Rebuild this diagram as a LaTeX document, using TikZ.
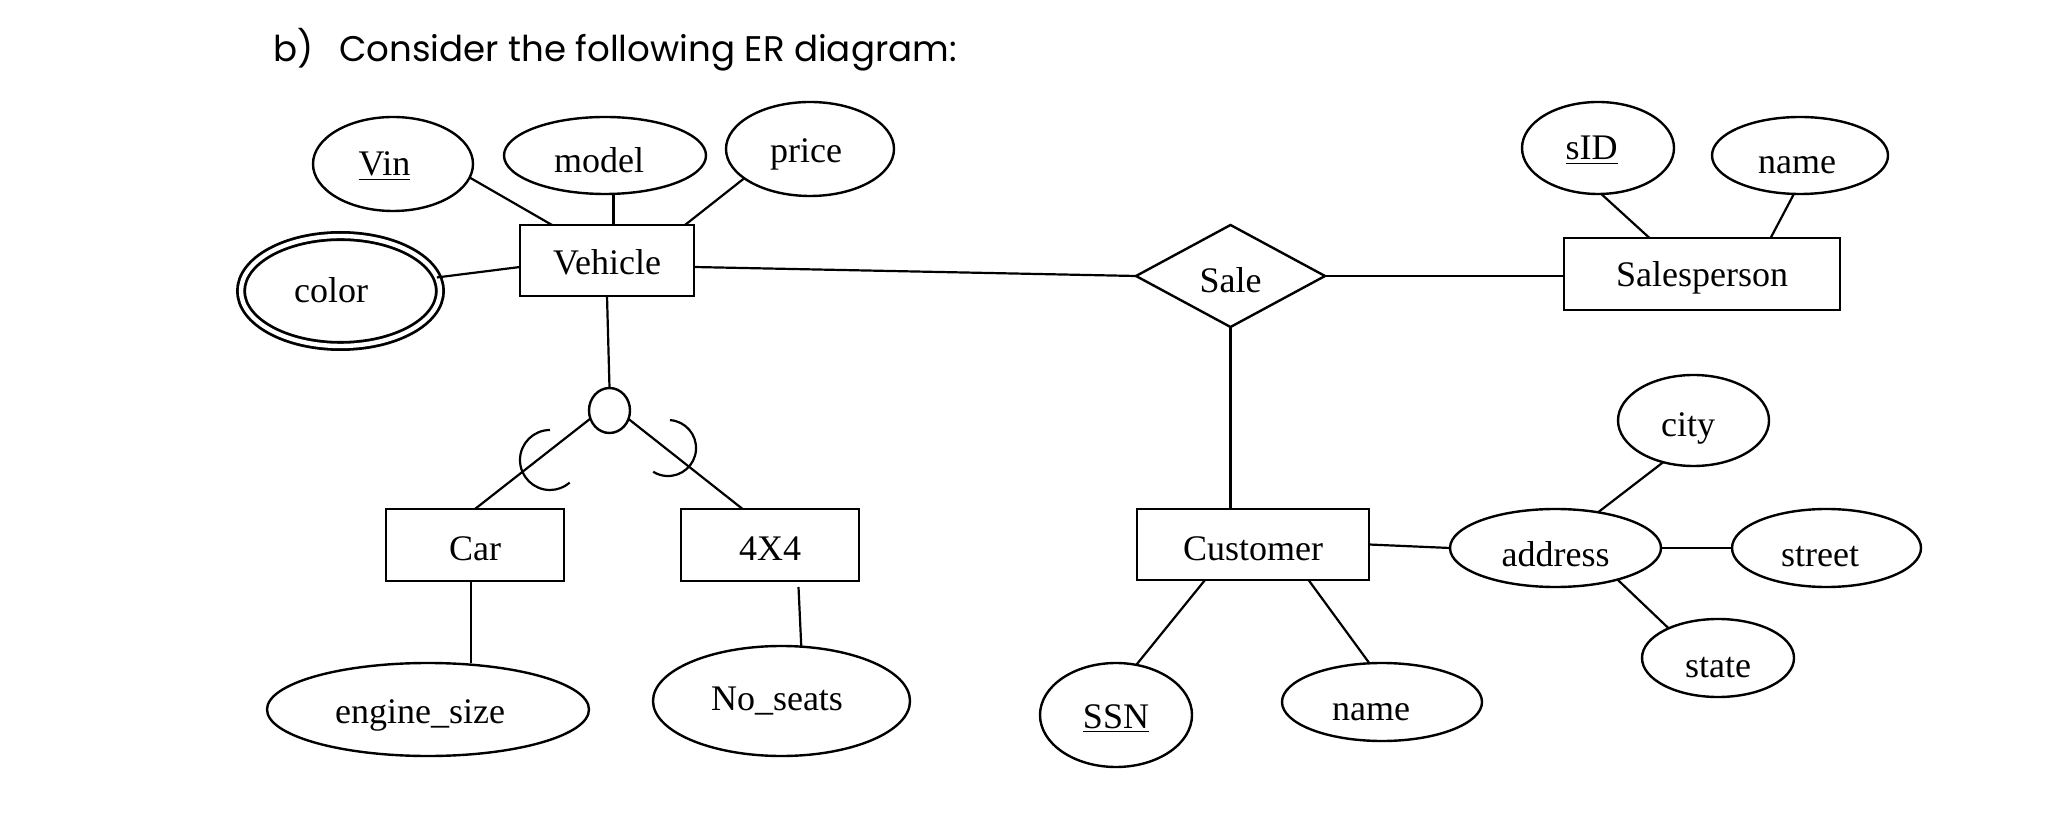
\documentclass[tikz,border=0pt]{standalone}
\usepackage{fontspec}
\setmainfont{Liberation Serif}
\newfontfamily\titlefont{Poppins}
\usetikzlibrary{shapes.geometric,calc}
\begin{document}
\begin{tikzpicture}[x=0.5pt,y=-0.5pt,
  every node/.style={inner sep=0pt, outer sep=0pt},
  lbl/.style={font=\fontsize{18pt}{21pt}\selectfont, text height=20pt, text depth=4pt},
  entity/.style={draw, rectangle, line width=1.2pt, lbl},
  attr/.style={draw, ellipse, line width=1.2pt, lbl},
  multiattr/.style={draw, ellipse, line width=1.4pt, double, double distance=2.2pt, lbl},
  rel/.style={draw, diamond, aspect=1.85, line width=1.2pt, lbl},
  joint/.style={draw, ellipse, line width=1.2pt},
  conn/.style={line width=1.1pt},
  titletext/.style={font=\titlefont\fontsize{17.8pt}{21pt}\selectfont, anchor=base west},
]
\useasboundingbox (0,0) rectangle (2064,838);

% title
\node[titletext] (tb) at (273,62) {b)};
\node[titletext] (tt) at (339,62) {Consider the following ER diagram:};

% entities
\node[entity, text depth=5.5pt, minimum width=87pt, minimum height=35.5pt] (vehicle) at (607,260.5) {Vehicle};
\node[entity, text depth=5pt, minimum width=89pt, minimum height=36pt] (car) at (475,545) {Car};
\node[entity, text depth=5pt, minimum width=89pt, minimum height=36pt] (fxf) at (770,545) {4X4};
\node[entity, text depth=4.5pt, minimum width=116pt, minimum height=35.5pt] (customer) at (1253,544.5) {Customer};
\node[entity, text depth=7pt, minimum width=138pt, minimum height=36pt] (salesperson) at (1702,274) {Salesperson};
\node[rel, text depth=3pt, minimum width=94.5pt, minimum height=51pt] (sale) at (1230.5,276) {Sale};

% attributes
\node[attr, text depth=8pt, minimum width=80pt, minimum height=47pt] (vin) at (393,164) {\underline{Vin}\hspace*{8.5pt}};
\node[attr, text depth=2.5pt, minimum width=101pt, minimum height=38.5pt] (model) at (605,155.5) {model\hspace*{6pt}};
\node[attr, text depth=6pt, minimum width=84pt, minimum height=47pt] (price) at (810,149) {price\hspace*{4pt}};
\node[multiattr, text depth=8pt, minimum width=99.5pt, minimum height=55pt] (color) at (340.5,291) {color\hspace*{9.5pt}};
\node[attr, text depth=8pt, minimum width=76pt, minimum height=46pt] (sid) at (1598,148) {\underline{sID}\hspace*{6.5pt}};
\node[attr, text depth=2pt, minimum width=88pt, minimum height=38.5pt] (spname) at (1800,155.5) {name\hspace*{3pt}};
\node[attr, text depth=3.5pt, minimum width=75.5pt, minimum height=45.5pt] (city) at (1693.5,420.5) {city\hspace*{5.5pt}};
\node[attr, text depth=1pt, minimum width=105.5pt, minimum height=39pt] (address) at (1555.5,548) {address};
\node[attr, text depth=1pt, minimum width=94.5pt, minimum height=39pt] (street) at (1826.5,548) {street\hspace*{6.5pt}};
\node[attr, text depth=1pt, minimum width=76pt, minimum height=39pt] (state) at (1718,658) {state};
\node[attr, text depth=7pt, minimum width=76pt, minimum height=52pt] (ssn) at (1116,715) {\underline{SSN}};
\node[attr, text depth=2pt, minimum width=100pt, minimum height=39pt] (cname) at (1382,702) {name\hspace*{11pt}};
\node[attr, text depth=6.5pt, minimum width=161pt, minimum height=46.5pt] (engine) at (428,709.5) {engine\_size\hspace*{8pt}};
\node[attr, text depth=11pt, minimum width=128.5pt, minimum height=55pt] (noseats) at (781.5,701) {No\_seats\hspace*{4.5pt}};

% specialisation circle
\node[joint, minimum width=20.5pt, minimum height=22.5pt] (disc) at (609.5,410.5) {};

% connectors
\draw[conn] (vin.-10) -- ($(vehicle.north west)!0.184!(vehicle.north east)$);
\draw[conn] ([xshift=4.25pt]model.south) -- ([xshift=3.25pt]vehicle.north);
\draw[conn] (price.204) -- ([xshift=-4.5pt]vehicle.north east);
\draw[conn] (color.8) -- ([yshift=-3.25pt]vehicle.west);
\draw[conn] ([yshift=-3.25pt]vehicle.east) -- (sale.west);
\draw[conn] (sale.east) -- (sale.east -| salesperson.west);
\draw[conn] (sid.-86) -- ([xshift=-26.25pt]salesperson.north);
\draw[conn] (spname.-99) -- ([xshift=34.3pt]salesperson.north);
\draw[conn] (sale.south) -- (sale.south |- customer.north);
\draw[conn] (customer.east) -- (address.west);
\draw[conn] (city.234) -- (address.40);
\draw[conn] (address.east) -- (street.west);
\draw[conn] (address.-27) -- (state.149);
\draw[conn] ([xshift=-24pt]customer.south) -- (ssn.68);
\draw[conn] ([xshift=27.75pt]customer.south) -- (cname.108);
\draw[conn] (vehicle.south) -- (disc.north);
\draw[conn] (disc.203) -- (car.north);
\draw[conn] (disc.-24) -- ([xshift=-13.7pt]fxf.north);
\draw[conn] ([xshift=-2.15pt]car.south) coordinate (c1) -- (c1 |- engine.north);
\draw[conn] ([xshift=14.25pt,yshift=-3pt]fxf.south) -- (noseats.70);

% subset marks
\draw[conn] (550,430) arc[start angle=90, end angle=311, radius=15pt];
\draw[conn] (670,420.1) arc[start angle=86, end angle=-122, radius=14pt];
\end{tikzpicture}
\end{document}
